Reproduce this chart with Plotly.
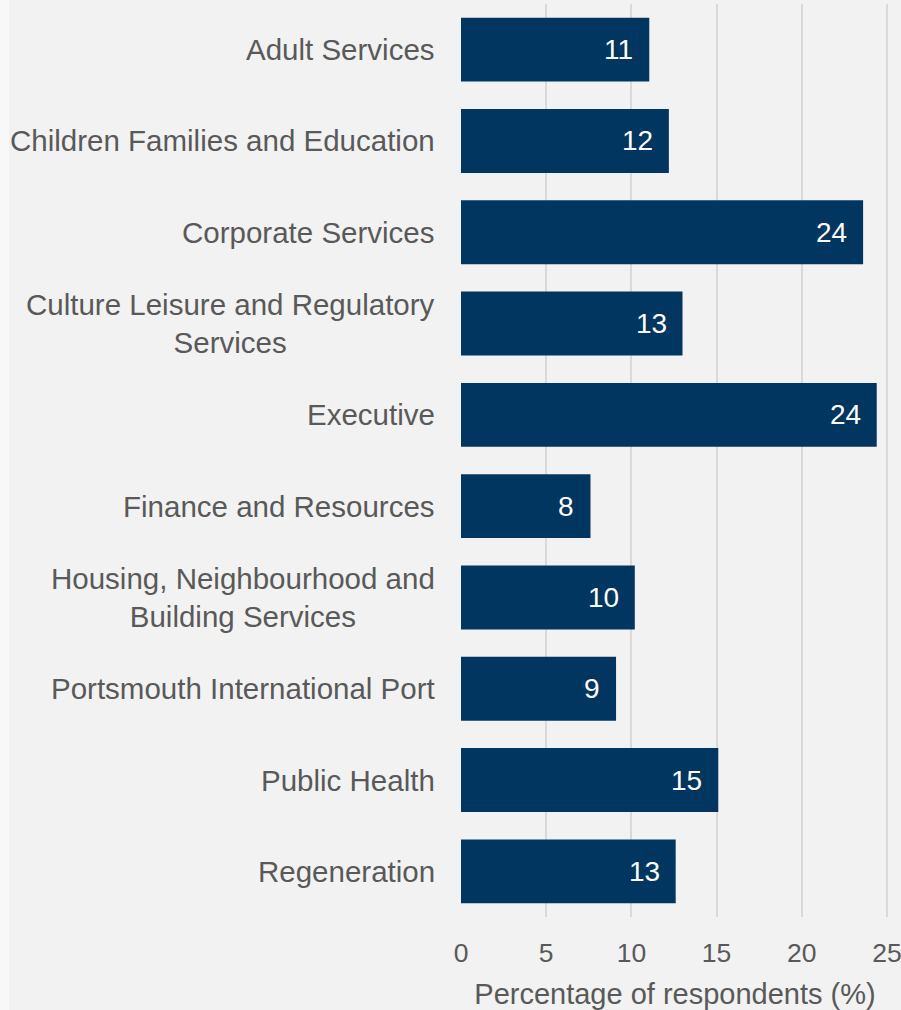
import plotly.graph_objects as go

# Share of respondents by directorate
categories = [
    "Adult Services",
    "Children Families and Education",
    "Corporate Services",
    "Culture Leisure and Regulatory<br>Services",
    "Executive",
    "Finance and Resources",
    "Housing, Neighbourhood and<br>Building Services",
    "Portsmouth International Port",
    "Public Health",
    "Regeneration",
]
values = [11.05, 12.2, 23.6, 13.0, 24.4, 7.6, 10.2, 9.1, 15.1, 12.6]
x_ticks = [0, 5, 10, 15, 20, 25]

W, H = 901, 1010
ML, MR, MT, MB = 461, 12, 4, 93
BAR = "#003660"
TXT = "#595959"
FONT = "Liberation Sans, Arial, sans-serif"

fig = go.Figure(
    go.Bar(
        x=values,
        y=categories,
        orientation="h",
        marker=dict(color=BAR, line=dict(width=0)),
        hoverinfo="skip",
    )
)

# value labels inside the bar ends
for c, v in zip(categories, values):
    fig.add_annotation(
        x=v, y=c, xref="x", yref="y",
        text=f"{v:.0f}", showarrow=False,
        xanchor="right", xshift=-14,
        font=dict(family=FONT, size=28, color="white"),
    )

# category labels, centred line by line
for c in categories:
    fig.add_annotation(
        x=0, y=c, xref="paper", yref="y",
        text=c, showarrow=False,
        xanchor="right", xshift=-24, align="center",
        font=dict(family=FONT, size=29.5, color=TXT),
    )

pw = W - ML - MR
fig.add_shape(
    type="rect", xref="paper", yref="paper",
    x0=-ML / pw, x1=(9 - ML) / pw, y0=-2, y1=2,
    fillcolor="#f8f8f8", line=dict(width=0), layer="below",
)

fig.update_layout(
    width=W, height=H,
    margin=dict(l=ML, r=MR, t=MT, b=MB, pad=0, autoexpand=False),
    paper_bgcolor="#f2f2f2",
    plot_bgcolor="#f2f2f2",
    bargap=0.3,
    showlegend=False,
    font=dict(family=FONT, size=26, color=TXT),
    xaxis=dict(
        range=[0, 25.12], automargin=False,
        tickvals=x_ticks,
        showgrid=True, gridcolor="#d9d9d9", gridwidth=1.5,
        zeroline=False, showline=False,
        ticks="", ticklabelstandoff=17, ticklabeloverflow="allow",
        tickfont=dict(family=FONT, size=26.5, color=TXT),
        title=dict(text="Percentage of respondents (%)",
                   font=dict(family=FONT, size=29, color=TXT), standoff=17),
    ),
    yaxis=dict(
        categoryorder="array", categoryarray=categories[::-1],
        autorange=False, range=[-0.5, len(categories) - 0.5],
        automargin=False,
        showticklabels=False, showgrid=False, zeroline=False, ticks="",
    ),
)

fig.write_html("out.html")
